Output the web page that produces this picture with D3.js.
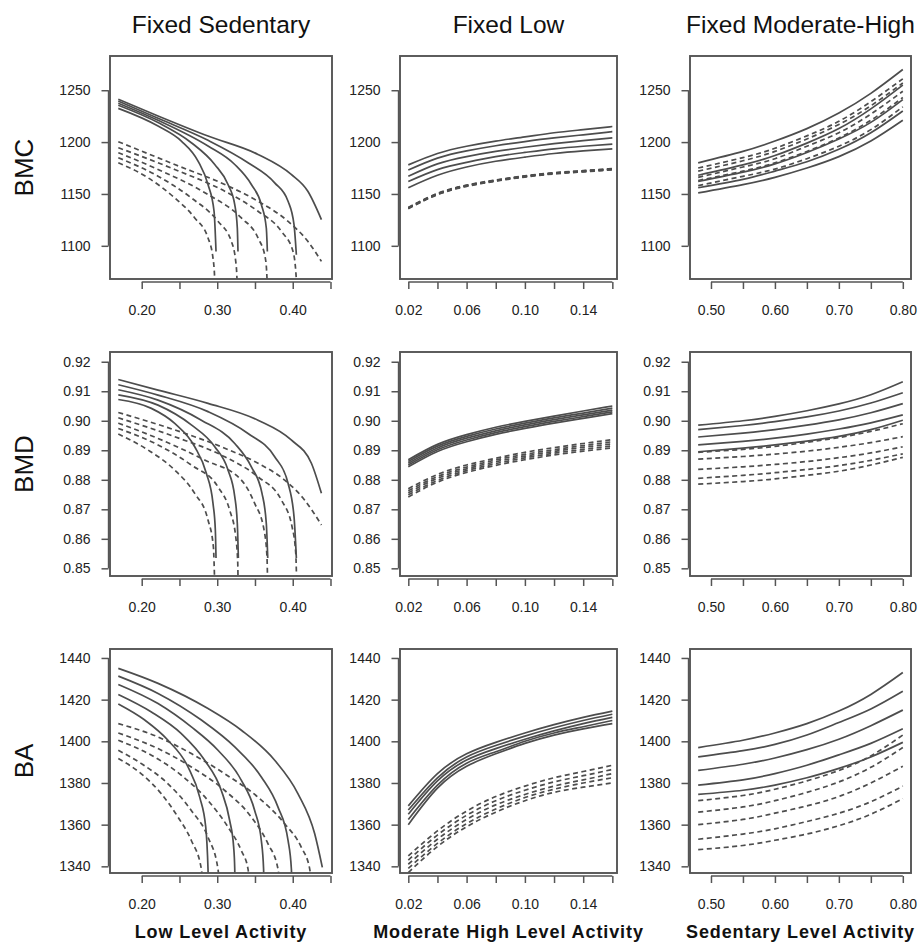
<!DOCTYPE html>
<html>
<head>
<meta charset="utf-8">
<script src="https://cdn.jsdelivr.net/npm/d3@7"></script>
<style>
  body { margin: 0; background: #fff; }
  text { font-family: "Liberation Sans", Arial, sans-serif; }
</style>
</head>
<body>
<div id="chart"></div>
<script>
const width = 921, height = 943;

const colTitles = ["Fixed Sedentary", "Fixed Low", "Fixed Moderate-High"];
const rowTitles = ["BMC", "BMD", "BA"];
const xTitles = ["Low Level Activity", "Moderate High Level Activity", "Sedentary Level Activity"];

const xTicks = [
    [0.20, 0.25, 0.30, 0.35, 0.40, 0.45],
    [0.02, 0.04, 0.06, 0.08, 0.10, 0.12, 0.14, 0.16],
    [0.50, 0.55, 0.60, 0.65, 0.70, 0.75, 0.80]
];
const xTickLabels = [
    ["0.20", "", "0.30", "", "0.40", ""],
    ["0.02", "", "0.06", "", "0.10", "", "0.14", ""],
    ["0.50", "", "0.60", "", "0.70", "", "0.80"]
];
const yTicks = [
    [1100, 1150, 1200, 1250],
    [0.85, 0.86, 0.87, 0.88, 0.89, 0.90, 0.91, 0.92],
    [1340, 1360, 1380, 1400, 1420, 1440]
];
const yTickLabels = [
    ["1100", "1150", "1200", "1250"],
    ["0.85", "0.86", "0.87", "0.88", "0.89", "0.90", "0.91", "0.92"],
    ["1340", "1360", "1380", "1400", "1420", "1440"]
];
const xLimits = [[0.158, 0.452], [0.0143, 0.1632], [0.4672, 0.8128]];
const yLimits = [[1068, 1283], [0.8474, 0.9233], [1336.8, 1444.3]];

// x values shared by the "Fixed Low" and "Fixed Moderate-High" columns
const mhLevels = [0.02, 0.04, 0.06, 0.08, 0.10, 0.12, 0.14, 0.16];
const sedLevels = [0.48, 0.55, 0.60, 0.65, 0.70, 0.75, 0.80];

// ---- BMC ----
const bmcSedSolid = [
    [[0.169,1232.5],[0.2216,1215.5],[0.2525,1201],[0.2746,1181.7],[0.2878,1159.1],[0.2958,1133.3],[0.2984,1094.6]],
    [[0.169,1235.5],[0.2216,1218.8],[0.2657,1199.4],[0.2967,1178.4],[0.3143,1159.1],[0.3232,1139.8],[0.3266,1117.2],[0.3275,1094.6]],
    [[0.169,1237.5],[0.2216,1221],[0.2878,1196.2],[0.3232,1178.4],[0.3452,1159.1],[0.3584,1139.8],[0.365,1117.2],[0.3664,1094.6]],
    [[0.169,1239.5],[0.2216,1222.9],[0.2878,1201.7],[0.3408,1180.1],[0.3761,1160.7],[0.3938,1143],[0.4017,1120.4],[0.4048,1091.4]],
    [[0.169,1241.3],[0.2216,1225.2],[0.2878,1205.8],[0.354,1188.1],[0.398,1168.8],[0.420,1152.6],[0.438,1125.3]]
];
const bmcSedDashed = [
    [[0.169,1180.1],[0.2083,1165.6],[0.2437,1146.2],[0.2702,1126.9],[0.2878,1107.6],[0.2944,1088.2],[0.2967,1067],[0.297,1050]],
    [[0.169,1184.9],[0.2216,1167.1],[0.2657,1146.2],[0.301,1123.6],[0.3187,1104.3],[0.3245,1085],[0.3262,1067],[0.3265,1050]],
    [[0.169,1189.8],[0.2216,1173.6],[0.2878,1149.4],[0.332,1126.9],[0.354,1107.6],[0.3637,1088.2],[0.366,1067],[0.3663,1050]],
    [[0.169,1194.6],[0.2437,1173.6],[0.31,1152.6],[0.354,1133.3],[0.385,1113.9],[0.4004,1094.6],[0.4048,1067],[0.405,1050]],
    [[0.169,1200.4],[0.2437,1178.4],[0.31,1159.1],[0.354,1143],[0.3938,1123.6],[0.420,1104.3],[0.438,1085]]
];
const bmcLowSolid = [
    [1178, 1189, 1196, 1201, 1205, 1209, 1212, 1215],
    [1173, 1184.5, 1191.5, 1196.5, 1200.5, 1204, 1207, 1210],
    [1167, 1179, 1186, 1191, 1195, 1198.5, 1201.5, 1204],
    [1162, 1173.5, 1180.5, 1186, 1190, 1193.5, 1196, 1198],
    [1156, 1168, 1176, 1181.5, 1185.5, 1189, 1191.5, 1193.5]
];
const bmcLowDashed = [
    [1137, 1150.5, 1158.5, 1163.5, 1167.5, 1170.5, 1172.5, 1174.5],
    [1136.7, 1150.2, 1158.2, 1163.2, 1167.2, 1170.2, 1172.2, 1174.2],
    [1136.4, 1149.9, 1157.9, 1162.9, 1166.9, 1169.9, 1171.9, 1173.9],
    [1136.1, 1149.6, 1157.6, 1162.6, 1166.6, 1169.6, 1171.6, 1173.6],
    [1135.8, 1149.3, 1157.3, 1162.3, 1166.3, 1169.3, 1171.3, 1173.3]
];
const bmcMhSolid = [
    [1180, 1191, 1201, 1213, 1228, 1247, 1270],
    [1168, 1178, 1187, 1199, 1213, 1232, 1255],
    [1162, 1171, 1179, 1190, 1203, 1219, 1241],
    [1156, 1164, 1172, 1181, 1193, 1209, 1230],
    [1151, 1159, 1166, 1175, 1186, 1201, 1221]
];
const bmcMhDashed = [
    [1175, 1185, 1194, 1206, 1220, 1239, 1261],
    [1172, 1182, 1191, 1203, 1217, 1235, 1257],
    [1166, 1176, 1184, 1196, 1209, 1227, 1249],
    [1163, 1172, 1180, 1191, 1204, 1221, 1243],
    [1158, 1167, 1174, 1184, 1196, 1212, 1234]
];

// ---- BMD ----
const bmdSedSolid = [
    [[0.169,0.9072],[0.2128,0.9042],[0.2437,0.8991],[0.2702,0.8912],[0.2856,0.8822],[0.2944,0.872],[0.2975,0.863],[0.2984,0.8535]],
    [[0.169,0.9088],[0.2216,0.9053],[0.2657,0.8986],[0.2967,0.8912],[0.3143,0.8833],[0.3232,0.8743],[0.3266,0.8652],[0.328,0.8535]],
    [[0.169,0.9105],[0.2216,0.907],[0.279,0.9002],[0.3232,0.8923],[0.3452,0.8844],[0.3593,0.8754],[0.365,0.8652],[0.3669,0.8535]],
    [[0.169,0.9122],[0.2216,0.9087],[0.2878,0.9031],[0.3408,0.8957],[0.3761,0.8878],[0.3938,0.8788],[0.4017,0.8675],[0.4048,0.8535]],
    [[0.169,0.914],[0.2216,0.9104],[0.2878,0.9059],[0.354,0.9002],[0.398,0.8935],[0.4247,0.8856],[0.438,0.8754]]
];
const bmdSedDashed = [
    [[0.169,0.8955],[0.2083,0.8901],[0.2437,0.8833],[0.2702,0.8754],[0.2878,0.8664],[0.2949,0.8573],[0.2966,0.845]],
    [[0.169,0.8974],[0.2216,0.8918],[0.2657,0.885],[0.301,0.8776],[0.3165,0.8697],[0.3245,0.8607],[0.3272,0.8517],[0.3276,0.845]],
    [[0.169,0.8992],[0.2216,0.894],[0.2834,0.8867],[0.332,0.8799],[0.3496,0.872],[0.362,0.863],[0.3659,0.8539],[0.3667,0.845]],
    [[0.169,0.901],[0.2437,0.8946],[0.31,0.8878],[0.354,0.881],[0.385,0.8731],[0.3991,0.8641],[0.404,0.8551],[0.4052,0.845]],
    [[0.169,0.9028],[0.2437,0.8969],[0.31,0.8907],[0.354,0.8856],[0.3894,0.8799],[0.4159,0.8731],[0.438,0.8647]]
];
const bmdLowSolid = [
    [0.8868, 0.8920, 0.8953, 0.8978, 0.8998, 0.9016, 0.9033, 0.9050],
    [0.8862, 0.8914, 0.8947, 0.8972, 0.8992, 0.9010, 0.9026, 0.9043],
    [0.8856, 0.8908, 0.8941, 0.8966, 0.8986, 0.9004, 0.9020, 0.9036],
    [0.8850, 0.8902, 0.8935, 0.8960, 0.8980, 0.8998, 0.9014, 0.9030],
    [0.8844, 0.8896, 0.8929, 0.8954, 0.8974, 0.8992, 0.9008, 0.9024]
];
const bmdLowDashed = [
    [0.8770, 0.8818, 0.8850, 0.8873, 0.8893, 0.8909, 0.8923, 0.8936],
    [0.8763, 0.8811, 0.8843, 0.8867, 0.8886, 0.8902, 0.8916, 0.8929],
    [0.8756, 0.8805, 0.8837, 0.8861, 0.8880, 0.8896, 0.8910, 0.8922],
    [0.8749, 0.8798, 0.8831, 0.8855, 0.8874, 0.8890, 0.8903, 0.8915],
    [0.8742, 0.8792, 0.8825, 0.8849, 0.8868, 0.8884, 0.8897, 0.8908]
];
const bmdMhSolid = [
    [0.8985, 0.9000, 0.9015, 0.9034, 0.9057, 0.9088, 0.9132],
    [0.8970, 0.8984, 0.8997, 0.9013, 0.9033, 0.9060, 0.9095],
    [0.8945, 0.8958, 0.8970, 0.8985, 0.9003, 0.9027, 0.9058],
    [0.8918, 0.8930, 0.8941, 0.8955, 0.8972, 0.8993, 0.9020],
    [0.8895, 0.8907, 0.8918, 0.8931, 0.8947, 0.8970, 0.9002]
];
const bmdMhDashed = [
    [0.8893, 0.8903, 0.8913, 0.8927, 0.8943, 0.8964, 0.8990],
    [0.8870, 0.8879, 0.8887, 0.8897, 0.8910, 0.8926, 0.8946],
    [0.8835, 0.8844, 0.8852, 0.8862, 0.8875, 0.8891, 0.8912],
    [0.8805, 0.8815, 0.8824, 0.8835, 0.8848, 0.8866, 0.8888],
    [0.8785, 0.8794, 0.8803, 0.8815, 0.8829, 0.8850, 0.8876]
];

// ---- BA ----
const baSedSolid = [
    [[0.169,1417.9],[0.204,1410.2],[0.2348,1400.5],[0.2613,1387.7],[0.2768,1373.2],[0.2848,1358.8],[0.2878,1338.7],[0.2885,1330]],
    [[0.169,1422.5],[0.2128,1414.1],[0.2525,1403.7],[0.2834,1390.9],[0.3054,1376.4],[0.3165,1362],[0.3218,1349.1],[0.3232,1338.7],[0.3236,1330]],
    [[0.169,1427.3],[0.2216,1418.1],[0.2657,1406.9],[0.301,1395.7],[0.332,1381.3],[0.3496,1366.8],[0.3584,1352.4],[0.3614,1338.7],[0.362,1330]],
    [[0.169,1431.3],[0.2216,1423],[0.279,1410.2],[0.3232,1397.3],[0.3584,1382.9],[0.3805,1368.4],[0.3938,1352.4],[0.3982,1338.7],[0.399,1330]],
    [[0.169,1435],[0.2216,1427.8],[0.2878,1415.7],[0.332,1405.3],[0.3761,1390.9],[0.407,1374.8],[0.4291,1355.6],[0.4392,1339.5]]
];
const baSedDashed = [
    [[0.169,1391.7],[0.1995,1384.4],[0.226,1374.8],[0.2481,1363.6],[0.2657,1352.4],[0.279,1338.7],[0.281,1330]],
    [[0.169,1395.7],[0.1995,1389.3],[0.2348,1379.6],[0.2657,1366.8],[0.2878,1354],[0.301,1338.7],[0.303,1330]],
    [[0.169,1400.5],[0.2128,1393.3],[0.2525,1383.7],[0.2878,1371.6],[0.3143,1358.8],[0.332,1347.5],[0.3408,1338.7],[0.343,1330]],
    [[0.169,1404],[0.2216,1396.5],[0.2657,1387.7],[0.31,1376.4],[0.3452,1363.6],[0.3673,1350.8],[0.3805,1338.7],[0.383,1330]],
    [[0.169,1408.5],[0.2216,1402.1],[0.2657,1394.1],[0.31,1384.4],[0.354,1373.2],[0.3894,1360.4],[0.4114,1349.1],[0.4225,1338.7],[0.425,1330]]
];
const baLowSolid = [
    [1369, 1384.5, 1394, 1399.5, 1404, 1408, 1411.5, 1414.5],
    [1367, 1382.5, 1392.5, 1398, 1402.5, 1406.5, 1410, 1413],
    [1365, 1381, 1391, 1396.5, 1401, 1405, 1408.5, 1411.5],
    [1362.5, 1379, 1389.5, 1395, 1400, 1404, 1407, 1410],
    [1360, 1377.5, 1388, 1394, 1399, 1403, 1406, 1408.5]
];
const baLowDashed = [
    [1345, 1357, 1366.5, 1373.5, 1378.5, 1382.5, 1385.5, 1388.5],
    [1343, 1355, 1364.5, 1371.5, 1376.5, 1380.5, 1383.5, 1386.5],
    [1341, 1353, 1362.5, 1369.5, 1374.5, 1378.5, 1381.5, 1384.5],
    [1339, 1351, 1360.5, 1367.5, 1373, 1377, 1380, 1382.5],
    [1337, 1349.5, 1359, 1366, 1371.5, 1375.5, 1378, 1380]
];
const baMhSolid = [
    [1397, 1400.5, 1404, 1408.5, 1414.5, 1422.5, 1433],
    [1392.5, 1395.5, 1398.5, 1403, 1409, 1415.5, 1424],
    [1386, 1389, 1392, 1396, 1401, 1407.5, 1415],
    [1379, 1381.5, 1384.5, 1388.5, 1393.5, 1399, 1406],
    [1374.5, 1376.5, 1379, 1382.5, 1387, 1392.5, 1399.5]
];
const baMhDashed = [
    [1371.5, 1374, 1377, 1381, 1386, 1393, 1403],
    [1366, 1368.5, 1371.5, 1375.5, 1380.5, 1387.5, 1397],
    [1360, 1362.5, 1365.5, 1369, 1373.5, 1380, 1388],
    [1353, 1355.5, 1358, 1361.5, 1365.5, 1371, 1378.5],
    [1348, 1350, 1352.5, 1355.5, 1359.5, 1365, 1372.5]
];

// ---- layout ----
const colLeft = [110, 400, 690], colRight = [332, 617, 911];
const rowTop = [56, 352, 649], rowBottom = [279, 576, 873];
const lineColor = "#4d4d4d";

const pair = function(xs) {
    return function(ys) { return ys.map(function(v, i) { return [xs[i], v]; }); };
};

const panels = [
    {row: 0, col: 0, solid: bmcSedSolid, dashed: bmcSedDashed},
    {row: 0, col: 1, solid: bmcLowSolid.map(pair(mhLevels)), dashed: bmcLowDashed.map(pair(mhLevels))},
    {row: 0, col: 2, solid: bmcMhSolid.map(pair(sedLevels)), dashed: bmcMhDashed.map(pair(sedLevels))},
    {row: 1, col: 0, solid: bmdSedSolid, dashed: bmdSedDashed},
    {row: 1, col: 1, solid: bmdLowSolid.map(pair(mhLevels)), dashed: bmdLowDashed.map(pair(mhLevels))},
    {row: 1, col: 2, solid: bmdMhSolid.map(pair(sedLevels)), dashed: bmdMhDashed.map(pair(sedLevels))},
    {row: 2, col: 0, solid: baSedSolid, dashed: baSedDashed},
    {row: 2, col: 1, solid: baLowSolid.map(pair(mhLevels)), dashed: baLowDashed.map(pair(mhLevels))},
    {row: 2, col: 2, solid: baMhSolid.map(pair(sedLevels)), dashed: baMhDashed.map(pair(sedLevels))}
];

const svg = d3.select("#chart")
    .append("svg")
    .attr("width", width)
    .attr("height", height)
    .style("background", "#fff");

panels.forEach(function(p, idx) {
    const x0 = colLeft[p.col], x1 = colRight[p.col];
    const y0 = rowTop[p.row], y1 = rowBottom[p.row];

    const x = d3.scaleLinear().domain(xLimits[p.col]).range([x0, x1]);
    const y = d3.scaleLinear().domain(yLimits[p.row]).range([y1, y0]);

    const g = svg.append("g");

    g.append("clipPath")
        .attr("id", "clip" + idx)
        .append("rect")
        .attr("x", x0).attr("y", y0)
        .attr("width", x1 - x0).attr("height", y1 - y0);

    // curves that plunge vertically need the monotone curve, the others a smooth spline
    const line = d3.line()
        .x(function(d) { return x(d[0]); })
        .y(function(d) { return y(d[1]); })
        .curve(p.col === 0 ? d3.curveMonotoneX : d3.curveNatural);

    const lines = g.append("g").attr("clip-path", "url(#clip" + idx + ")");

    lines.selectAll("path.dashed")
        .data(p.dashed)
        .enter().append("path")
        .attr("class", "dashed")
        .attr("d", line)
        .attr("fill", "none")
        .attr("stroke", lineColor)
        .attr("stroke-width", 1.7)
        .attr("stroke-dasharray", "5,3.5");

    lines.selectAll("path.solid")
        .data(p.solid)
        .enter().append("path")
        .attr("class", "solid")
        .attr("d", line)
        .attr("fill", "none")
        .attr("stroke", lineColor)
        .attr("stroke-width", 1.7);

    // box
    g.append("rect")
        .attr("x", x0).attr("y", y0)
        .attr("width", x1 - x0).attr("height", y1 - y0)
        .attr("fill", "none")
        .attr("stroke", "#555")
        .attr("stroke-width", 1.9);

    // y axis
    const yt = yTicks[p.row];
    const yAxis = g.append("g")
        .attr("transform", "translate(" + (x0 - 1.5) + ",0)")
        .call(d3.axisLeft(y)
            .tickValues(yt)
            .tickSize(7)
            .tickPadding(11)
            .tickFormat(function(d, i) { return yTickLabels[p.row][i]; }));
    yAxis.select(".domain").remove();
    yAxis.append("line")
        .attr("x1", 0).attr("x2", 0)
        .attr("y1", y(yt[0])).attr("y2", y(yt[yt.length - 1]))
        .attr("stroke", "#555").attr("stroke-width", 1.4);
    yAxis.selectAll(".tick line").attr("stroke", "#555").attr("stroke-width", 1.5);
    yAxis.selectAll(".tick text")
        .attr("fill", "#222")
        .style("font-size", "14px")
        .style("font-family", "'Liberation Sans', Arial, sans-serif");

    // x axis
    const xt = xTicks[p.col];
    const xAxis = g.append("g")
        .attr("transform", "translate(0," + (y1 + 3) + ")")
        .call(d3.axisBottom(x)
            .tickValues(xt)
            .tickSize(7)
            .tickPadding(16)
            .tickFormat(function(d, i) { return xTickLabels[p.col][i]; }));
    xAxis.select(".domain").remove();
    xAxis.append("line")
        .attr("x1", x(xt[0])).attr("x2", x(xt[xt.length - 1]))
        .attr("y1", 0).attr("y2", 0)
        .attr("stroke", "#555").attr("stroke-width", 1.4);
    xAxis.selectAll(".tick line").attr("stroke", "#555").attr("stroke-width", 1.5);
    xAxis.selectAll(".tick text")
        .attr("fill", "#222")
        .style("font-size", "14px")
        .style("font-family", "'Liberation Sans', Arial, sans-serif");
});

// column titles
svg.selectAll("text.coltitle")
    .data(colTitles)
    .enter().append("text")
    .attr("class", "coltitle")
    .attr("x", function(d, i) { return (colLeft[i] + colRight[i]) / 2; })
    .attr("y", 33)
    .attr("text-anchor", "middle")
    .attr("fill", "#111")
    .style("font-size", "24.5px")
    .text(function(d) { return d; });

// row titles
svg.selectAll("text.rowtitle")
    .data(rowTitles)
    .enter().append("text")
    .attr("class", "rowtitle")
    .attr("transform", function(d, i) {
        return "translate(33," + ((rowTop[i] + rowBottom[i]) / 2) + ") rotate(-90)";
    })
    .attr("text-anchor", "middle")
    .attr("fill", "#111")
    .style("font-size", "26px")
    .text(function(d) { return d; });

// x axis titles
svg.selectAll("text.xtitle")
    .data(xTitles)
    .enter().append("text")
    .attr("class", "xtitle")
    .attr("x", function(d, i) { return (colLeft[i] + colRight[i]) / 2; })
    .attr("y", 938)
    .attr("text-anchor", "middle")
    .attr("fill", "#111")
    .style("font-size", "18px")
    .style("font-weight", "bold")
    .style("letter-spacing", "0.9px")
    .text(function(d) { return d; });
</script>
</body>
</html>
